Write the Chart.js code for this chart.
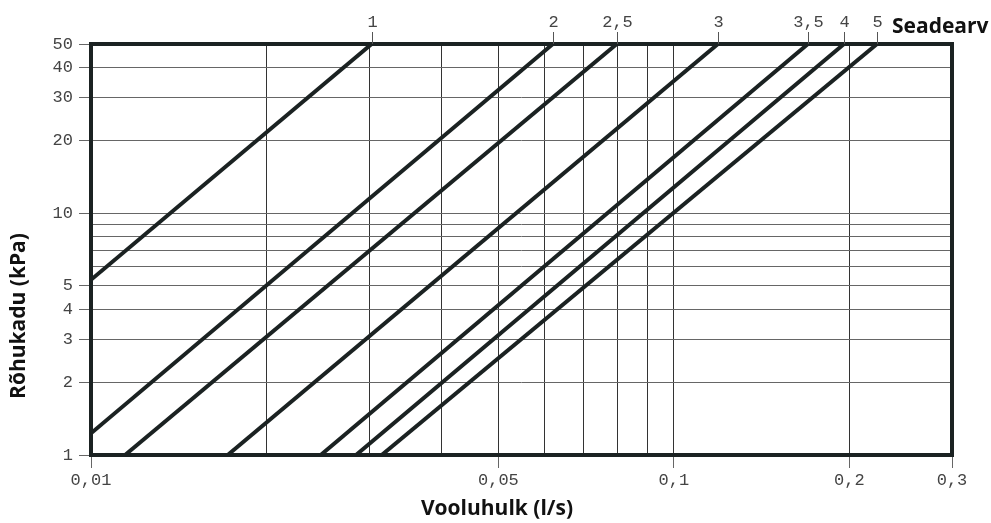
<!DOCTYPE html>
<html>
<head>
<meta charset="utf-8">
<script src="https://cdn.jsdelivr.net/npm/chart.js@4/dist/chart.umd.min.js"></script>
<style>
  html, body { margin: 0; padding: 0; background: #ffffff; }
  #wrap { width: 991px; height: 523px; position: relative; }
</style>
</head>
<body>
<div id="wrap"><canvas id="chart" width="991" height="523"></canvas></div>
<script>
// Valve setting (Seadearv) curves: flow (l/s) vs pressure drop (kPa)
const settingLabels = ['1', '2', '2,5', '3', '3,5', '4', '5'];
const startFlow = [0.01, 0.01, 0.01144, 0.01716, 0.02478, 0.02849, 0.03153];
const startDrop = [5.3, 1.23, 1, 1, 1, 1, 1];
const endFlow = [0.0303, 0.0620, 0.0798, 0.1190, 0.1698, 0.1958, 0.2231];
const endDrop = [50, 50, 50, 50, 50, 50, 50];

// Axis ranges and ticks
const flowMin = 0.01, flowMax = 0.3;
const dropMin = 1, dropMax = 50;
const flowGrid = [0.01, 0.02, 0.03, 0.04, 0.05, 0.06, 0.07, 0.08, 0.09, 0.1, 0.2, 0.3];
const flowTickValues = [0.01, 0.05, 0.1, 0.2, 0.3];
const flowTickLabels = ['0,01', '0,05', '0,1', '0,2', '0,3'];
const dropGrid = [1, 2, 3, 4, 5, 6, 7, 8, 9, 10, 20, 30, 40, 50];
const dropTickValues = [1, 2, 3, 4, 5, 10, 20, 30, 40, 50];
const dropTickLabels = ['1', '2', '3', '4', '5', '10', '20', '30', '40', '50'];

const INK = '#1b2222';
const TICK_FONT = { family: '"Liberation Mono", "DejaVu Sans Mono", monospace', size: 17 };
const TITLE_FONT = 'bold 21px "Open Sans", "Noto Sans", sans-serif';

const datasets = settingLabels.map((name, i) => ({
  label: name,
  data: [{ x: startFlow[i], y: startDrop[i] }, { x: endFlow[i], y: endDrop[i] }],
  borderColor: INK,
  borderWidth: 4,
  pointRadius: 0,
  fill: false,
  tension: 0
}));

function near(a, b) { return Math.abs(a - b) / b < 1e-6; }

const decorPlugin = {
  id: 'decor',
  afterDatasetsDraw(chart) {
    const { ctx, chartArea: a, scales } = chart;
    ctx.save();
    // heavy frame
    ctx.strokeStyle = INK;
    ctx.lineWidth = 4;
    ctx.strokeRect(a.left, a.top, a.right - a.left, a.bottom - a.top);

    // setting labels above the frame
    ctx.font = `${TICK_FONT.size}px ${TICK_FONT.family}`;
    ctx.fillStyle = '#444';
    ctx.textAlign = 'center';
    ctx.textBaseline = 'middle';
    ctx.strokeStyle = '#555';
    ctx.lineWidth = 1;
    settingLabels.forEach((name, i) => {
      const x = Math.round(scales.x.getPixelForValue(endFlow[i])) + 0.5;
      ctx.beginPath();
      ctx.moveTo(x, a.top - 12);
      ctx.lineTo(x, a.top);
      ctx.stroke();
      ctx.fillText(name, x, a.top - 22);
    });

    // titles
    ctx.fillStyle = '#111';
    ctx.font = TITLE_FONT;
    ctx.textAlign = 'left';
    ctx.fillText('Seadearv', 892, 27);
    ctx.textAlign = 'center';
    ctx.fillText('Vooluhulk (l/s)', 497, 509);
    ctx.translate(19, 316);
    ctx.rotate(-Math.PI / 2);
    ctx.fillText('Rõhukadu (kPa)', 0, 0);
    ctx.restore();
  }
};

new Chart(document.getElementById('chart'), {
  type: 'line',
  data: { datasets },
  options: {
    responsive: false,
    animation: false,
    devicePixelRatio: 1,
    layout: { padding: { top: 44, right: 39, left: 0, bottom: 0 } },
    plugins: { legend: { display: false }, tooltip: { enabled: false } },
    scales: {
      x: {
        type: 'logarithmic',
        min: flowMin,
        max: flowMax,
        afterBuildTicks(scale) { scale.ticks = flowGrid.map(v => ({ value: v })); },
        afterFit(scale) { scale.height = 68; },
        border: { display: false },
        grid: {
          color: '#333',
          lineWidth: 1,
          tickLength: 13,
          tickColor: ctx => flowTickValues.some(v => near(ctx.tick.value, v)) ? '#666' : 'rgba(0,0,0,0)'
        },
        ticks: {
          autoSkip: false,
          maxRotation: 0,
          padding: 2,
          color: '#444',
          font: TICK_FONT,
          callback(value) {
            const k = flowTickValues.findIndex(v => near(value, v));
            return k >= 0 ? flowTickLabels[k] : '';
          }
        }
      },
      y: {
        type: 'logarithmic',
        min: dropMin,
        max: dropMax,
        afterBuildTicks(scale) { scale.ticks = dropGrid.map(v => ({ value: v })); },
        afterFit(scale) { scale.width = 91; },
        border: { display: false },
        grid: {
          color: '#666',
          lineWidth: 1,
          tickLength: 12,
          tickColor: ctx => dropTickValues.some(v => near(ctx.tick.value, v)) ? '#666' : 'rgba(0,0,0,0)'
        },
        ticks: {
          autoSkip: false,
          padding: 6,
          color: '#444',
          font: TICK_FONT,
          callback(value) {
            const k = dropTickValues.findIndex(v => near(value, v));
            return k >= 0 ? dropTickLabels[k] : '';
          }
        }
      }
    }
  },
  plugins: [decorPlugin]
});
</script>
</body>
</html>
